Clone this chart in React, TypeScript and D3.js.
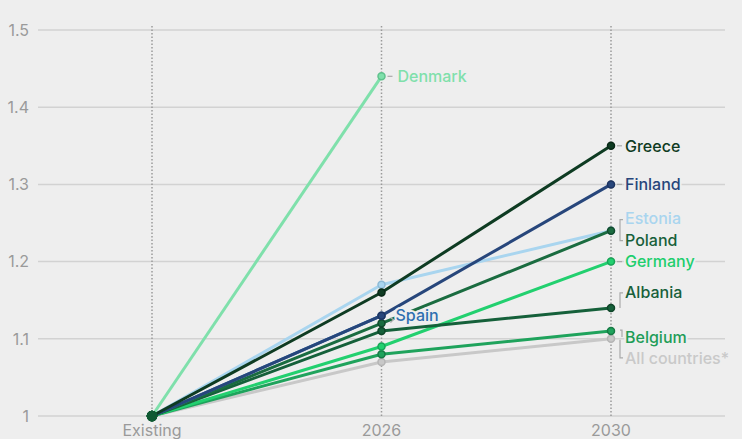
import React from "react";
import * as d3 from "d3";

const W = 742;
const H = 439;

const periods = ["Existing", "2026", "2030"];
const yTicks = [1, 1.1, 1.2, 1.3, 1.4, 1.5];

// Values per country for Existing, 2026, 2030 (null = not reported)
const allCountries = [1, 1.07, 1.1];
const belgium = [1, 1.08, 1.11];
const albania = [1, 1.11, 1.14];
const germany = [1, 1.09, 1.2];
const poland = [1, 1.12, 1.24];
const estonia = [1, 1.17, 1.24];
const spain = [1, 1.13, null];
const finland = [1, 1.13, 1.3];
const greece = [1, 1.16, 1.35];
const denmark = [1, 1.44, null];

type Series = { name: string; values: (number | null)[]; color: string; dot: string };

const series: Series[] = [
  { name: "All countries*", values: allCountries, color: "#c8c8c8", dot: "#b5b5b5" },
  { name: "Belgium", values: belgium, color: "#1fa35c", dot: "#177a45" },
  { name: "Germany", values: germany, color: "#22d06f", dot: "#18a457" },
  { name: "Albania", values: albania, color: "#15603a", dot: "#0f4529" },
  { name: "Estonia", values: estonia, color: "#a9d5ef", dot: "#8dbad6" },
  { name: "Poland", values: poland, color: "#1a6c40", dot: "#114a2c" },
  { name: "Spain", values: spain, color: "#2e6fb0", dot: "#245a90" },
  { name: "Finland", values: finland, color: "#27467b", dot: "#1c3360" },
  { name: "Greece", values: greece, color: "#0e3b22", dot: "#082816" },
  { name: "Denmark", values: denmark, color: "#7fe0ab", dot: "#5fc18c" },
];

const x = d3.scalePoint<string>().domain(periods).range([152, 611]);
const y = d3.scaleLinear().domain([1, 1.5]).range([416, 30]);

const BG = "#eeeeee";
const FONT = "Inter, 'Open Sans', sans-serif";

type Label = {
  text: string;
  color: string;
  tx: number;
  ty: number;
};

export default function App() {
  const line = d3
    .line<[string, number | null]>()
    .defined((d) => d[1] !== null)
    .x((d) => x(d[0]) as number)
    .y((d) => y(d[1] as number));

  const x26 = x("2026") as number;
  const x30 = x("2030") as number;
  const lx = x30 + 14;

  const labels: Label[] = [
    { text: "Denmark", color: "#7fe0ab", tx: x26 + 16, ty: y(1.44) },
    { text: "Spain", color: "#2e6fb0", tx: x26 + 14, ty: y(1.13) },
    { text: "Greece", color: "#0e3b22", tx: lx, ty: y(1.35) },
    { text: "Finland", color: "#27467b", tx: lx, ty: y(1.3) },
    { text: "Estonia", color: "#a9d5ef", tx: lx, ty: y(1.24) - 12 },
    { text: "Poland", color: "#17603a", tx: lx, ty: y(1.24) + 10 },
    { text: "Germany", color: "#20ce6d", tx: lx, ty: y(1.2) },
    { text: "Albania", color: "#17603a", tx: lx, ty: y(1.14) - 16 },
    { text: "Belgium", color: "#1f9d58", tx: lx, ty: y(1.11) + 6 },
    { text: "All countries*", color: "#c9c9c9", tx: lx, ty: y(1.1) + 19 },
  ];

  const lead = "#aaaaaa";

  return (
    <svg
      width={W}
      height={H}
      style={{ position: "absolute", left: 0, top: 0, display: "block" }}
      fontFamily={FONT}
    >
      <rect width={W} height={H} fill={BG} />

      {/* horizontal grid */}
      {yTicks.map((t) => (
        <g key={t}>
          <line x1={38} x2={725} y1={y(t)} y2={y(t)} stroke="#d2d2d2" strokeWidth={1.5} />
          <text
            x={29}
            y={y(t)}
            dy="0.36em"
            textAnchor="end"
            fontSize={16}
            fill="#9a9a9a"
          >
            {d3.format("")(t)}
          </text>
        </g>
      ))}

      {/* period guides */}
      {periods.map((p) => (
        <g key={p}>
          <line
            x1={x(p)}
            x2={x(p)}
            y1={y(1.5) - 4}
            y2={y(1)}
            stroke="#9a9a9a"
            strokeWidth={1.5}
            strokeDasharray="1.5 2"
          />
          <text
            x={x(p)}
            y={430}
            dy="0.36em"
            textAnchor="middle"
            fontSize={16}
            fill="#9a9a9a"
          >
            {p}
          </text>
        </g>
      ))}

      {/* country lines */}
      {series.map((s) => (
        <path
          key={s.name}
          d={line(periods.map((p, i) => [p, s.values[i]] as [string, number | null])) || ""}
          fill="none"
          stroke={s.color}
          strokeWidth={3}
          strokeLinejoin="round"
        />
      ))}

      {/* points */}
      {series.map((s) =>
        periods.map((p, i) =>
          s.values[i] === null ? null : (
            <circle
              key={s.name + p}
              cx={x(p)}
              cy={y(s.values[i] as number)}
              r={i === 0 ? 4.5 : 3.5}
              fill={i === 0 ? "#0f5a33" : s.color}
              stroke={i === 0 ? "#0f5a33" : s.dot}
              strokeWidth={1.5}
            />
          )
        )
      )}

      {/* leaders */}
      <g stroke={lead} strokeWidth={1.2} fill="none">
        <line x1={x26 + 6} x2={x26 + 11} y1={y(1.44)} y2={y(1.44)} />
        <path d={`M${x26 + 9},${y(1.13) + 2} l3,2 l-3,3`} />
        <line x1={x30 + 6} x2={x30 + 11} y1={y(1.35)} y2={y(1.35)} />
        <line x1={x30 + 6} x2={x30 + 11} y1={y(1.3)} y2={y(1.3)} />
        <path d={`M${x30 + 12},${y(1.24) - 11} h-3 v21 h3`} />
        <line x1={x30 + 6} x2={x30 + 11} y1={y(1.2)} y2={y(1.2)} />
        <path d={`M${x30 + 12},${y(1.14) - 15} h-3 v15`} />
        <path d={`M${x30 + 9},${y(1.11) - 1} h2 v7`} />
        <path d={`M${x30 + 9},${y(1.1) + 1} v18 h3`} />
      </g>

      {/* labels */}
      {labels.map((l) => (
        <text
          key={l.text}
          x={l.tx}
          y={l.ty}
          dy="0.36em"
          fontSize={16}
          fontWeight={500}
          fill={l.color}
          stroke={BG}
          strokeWidth={4}
          paintOrder="stroke"
        >
          {l.text}
        </text>
      ))}
    </svg>
  );
}
